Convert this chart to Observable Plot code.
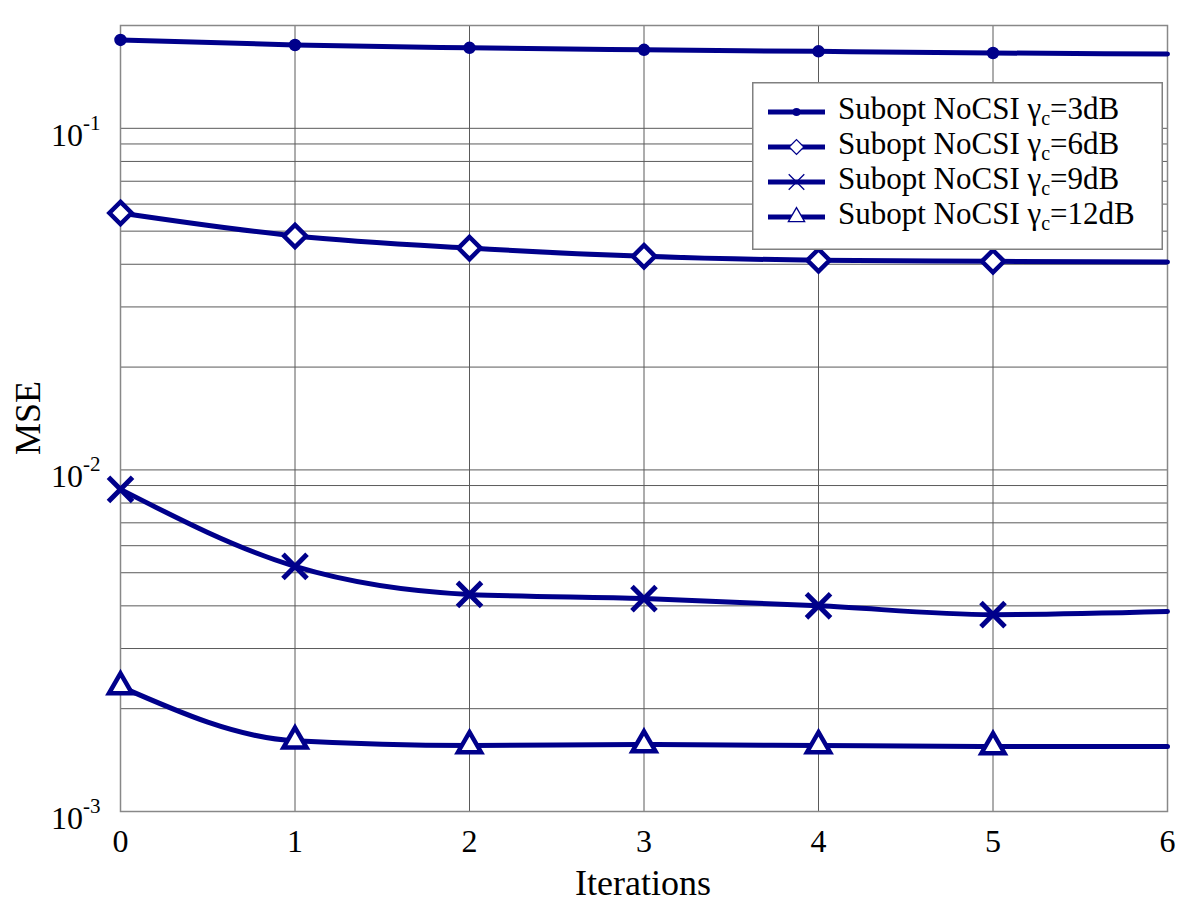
<!DOCTYPE html>
<html>
<head>
<meta charset="utf-8">
<script src="https://cdn.jsdelivr.net/npm/d3@7"></script>
<script src="https://cdn.jsdelivr.net/npm/@observablehq/plot@0.6"></script>
<style>
  body { margin: 0; background: white; }
  #wrap { position: relative; width: 1200px; height: 913px; overflow: hidden; }
  #legend { position: absolute; left: 752px; top: 82px; }
</style>
</head>
<body>
<div id="wrap"></div>
<script>
// ---- data ----
const iterations = [0, 1, 2, 3, 4, 5, 6];
const markerIterations = [0, 1, 2, 3, 4, 5];
const mse3dB  = [0.1815, 0.1754, 0.1720, 0.1697, 0.1680, 0.1662, 0.1650];
const mse6dB  = [0.0565, 0.0484, 0.0446, 0.0422, 0.0411, 0.0408, 0.0406];
const mse9dB  = [0.00877, 0.00522, 0.00432, 0.00420, 0.00400, 0.00377, 0.00385];
const mse12dB = [0.00232, 0.00161, 0.00156, 0.00157, 0.00156, 0.00155, 0.00155];
const seriesNames = ["3dB", "6dB", "9dB", "12dB"];
const seriesSymbols = ["circle", "diamond2", "times", "triangle2"];
const xTicks = [0, 1, 2, 3, 4, 5, 6];
const yLabelTicks = [0.001, 0.01, 0.1];
const yGridTicks = [0.001,0.002,0.003,0.004,0.005,0.006,0.007,0.008,0.009,
                    0.01,0.02,0.03,0.04,0.05,0.06,0.07,0.08,0.09,0.1];

const NAVY = "#00008B";
const FONT = "'Liberation Serif', 'Times New Roman', serif";
const seriesValues = [mse3dB, mse6dB, mse9dB, mse12dB];

const lineMarks = seriesValues.map(vals =>
  Plot.line(vals, {x: (d, i) => iterations[i], y: d => d, stroke: NAVY, strokeWidth: 5, curve: "monotone-x"})
);
const dotMarks = seriesValues.map((vals, k) => {
  const pts = markerIterations.map(i => ({x: iterations[i], y: vals[i]}));
  if (k === 0) return Plot.dot(pts, {x: "x", y: "y", r: 5.5, fill: NAVY, stroke: NAVY, symbol: "circle"});
  const r = k === 1 ? 10 : 11;
  return Plot.dot(pts, {x: "x", y: "y", r, symbol: seriesSymbols[k], stroke: NAVY, strokeWidth: k === 2 ? 5 : 4.5, fill: k === 2 ? "none" : "white"});
});

const svg = Plot.plot({
  width: 1200, height: 913,
  marginLeft: 120, marginRight: 33, marginTop: 25, marginBottom: 102,
  style: {fontFamily: FONT, fontSize: "32px", background: "white", color: "black"},
  x: {domain: [0, 6]},
  y: {type: "log", domain: [0.001, 0.2]},
  marks: [
    Plot.gridX(xTicks, {stroke: "#5a5a5a", strokeOpacity: 1, strokeWidth: 1}),
    Plot.gridY(yGridTicks, {stroke: "#5a5a5a", strokeOpacity: 1, strokeWidth: 1}),
    Plot.frame({stroke: "#888", strokeWidth: 1.5}),
    Plot.axisX(xTicks, {tickSize: 0, tickPadding: 18, label: null, tickFormat: d => String(d)}),
    Plot.axisY(yLabelTicks, {anchor: "left", tickSize: 0, tickPadding: 20, label: null,
      tickFormat: d => "10|" + Math.round(Math.log10(d))}),
    ...lineMarks,
    ...dotMarks
  ]
});

const s = d3.select(svg);
s.selectAll('g[aria-label="x-axis tick label"] text')
  .attr("font-size", 32).style("font-size", "32px").attr("font-family", FONT);

// superscript y tick labels
s.selectAll('g[aria-label="y-axis tick label"] text').each(function() {
  const t = d3.select(this);
  const [base, exp] = t.text().split("|");
  t.text(null).attr("dy", 7).attr("font-size", 32).style("font-size", "32px").attr("font-family", FONT);
  t.append("tspan").text(base);
  t.append("tspan").attr("dy", -16).attr("font-size", 21).style("font-size", "21px").text(exp);
});

// axis titles
s.append("text").attr("x", 643).attr("y", 895).attr("text-anchor", "middle")
  .attr("font-size", 36).style("font-size", "36px").attr("fill", "black").text("Iterations");
s.append("text").attr("transform", "translate(40,418) rotate(-90)").attr("text-anchor", "middle")
  .attr("font-size", 36).style("font-size", "36px").attr("fill", "black").text("MSE");

document.getElementById("wrap").appendChild(svg);

// legend
const lw = 411, lh = 168;
const leg = d3.select("#wrap").append("svg").attr("id", "legend")
  .attr("width", lw).attr("height", lh)
  .style("font-family", FONT);
leg.append("rect").attr("x", 0.75).attr("y", 0.75).attr("width", lw - 1.5).attr("height", lh - 1.5)
  .attr("fill", "white").attr("stroke", "#808080").attr("stroke-width", 1.5);
const rowY = [30, 65, 100, 135];
const legSizes = [50, 140, 160, 190];
seriesNames.forEach((name, k) => {
  const y = rowY[k];
  leg.append("line").attr("x1", 16).attr("x2", 73).attr("y1", y).attr("y2", y)
    .attr("stroke", NAVY).attr("stroke-width", 5);
  const sym = {circle: d3.symbolCircle, diamond2: d3.symbolDiamond2, times: d3.symbolTimes, triangle2: d3.symbolTriangle2}[seriesSymbols[k]];
  const p = leg.append("path").attr("transform", `translate(44.5,${y})`)
    .attr("d", d3.symbol(sym, legSizes[k])());
  if (k === 0) p.attr("fill", NAVY);
  else p.attr("fill", k === 2 ? "none" : "white").attr("stroke", NAVY).attr("stroke-width", 1.3);
  const t = leg.append("text").attr("x", 86).attr("y", y + 7).attr("font-size", 31).attr("fill", "black");
  t.append("tspan").text("Subopt NoCSI ");
  t.append("tspan").text("γ");
  t.append("tspan").attr("font-size", 20).attr("dy", 6).text("c");
  t.append("tspan").attr("dy", -6).text("=" + name);
});
</script>
</body>
</html>
